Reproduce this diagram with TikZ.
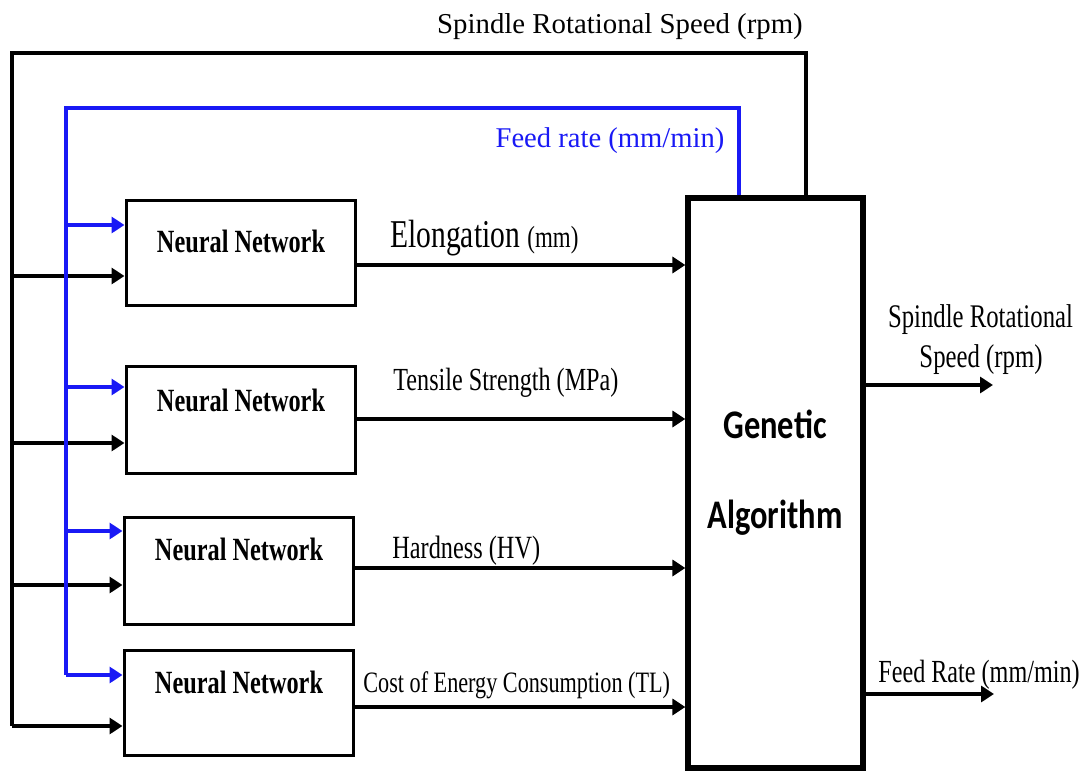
\documentclass[tikz,border=0pt]{standalone}
\usepackage{fontspec}
\setmainfont{Liberation Serif}
\newfontfamily\narrowserif[FakeStretch=0.75]{Liberation Serif}
\newfontfamily\narrowsans[FakeStretch=0.8]{Carlito}
\usepackage{tikz}
\usetikzlibrary{arrows.meta}
\usepackage{xcolor}
\definecolor{feedblue}{RGB}{25,25,245}

\tikzset{
  nnbox/.style={draw, line width=1.5pt, minimum width=114.5pt, minimum height=52.5pt, inner sep=0pt},
  gabox/.style={draw, line width=2.6pt, minimum width=87.5pt, minimum height=285pt, inner sep=0pt},
  bus/.style={line width=2pt},
  flow/.style={bus, -{Triangle[length=6.5pt,width=8pt]}},
  feedflow/.style={flow, feedblue},
  nnlbl/.style={anchor=base, inner sep=0pt, font=\narrowserif\bfseries\fontsize{16.2}{18}\selectfont},
  galbl/.style={anchor=base, inner sep=0pt, font=\narrowsans\bfseries\fontsize{20.3}{22}\selectfont},
  toplbl/.style={anchor=base, inner sep=0pt},
  outlbl/.style={anchor=base west, inner sep=0pt},
}

\begin{document}
\begin{tikzpicture}[x=0.5pt, y=-0.5pt]
  \useasboundingbox (0,0) rectangle (1089,771);

  % blocks
  \node[nnbox] (nn1) at (240.5,253) {};
  \node[nnbox, minimum height=53.5pt] (nn2) at (240.5,419.5) {};
  \node[nnbox, minimum height=53.5pt] (nn3) at (238.5,570.5) {};
  \node[nnbox] (nn4) at (238.5,703) {};
  \node[gabox] (ga) at (775.5,483) {};

  \node[nnlbl] (nn1txt) at (241,252) {Neural Network};
  \node[nnlbl] (nn2txt) at (241,411) {Neural Network};
  \node[nnlbl] (nn3txt) at (239,560) {Neural Network};
  \node[nnlbl] (nn4txt) at (239,693) {Neural Network};
  \node[galbl] (gen) at (775,438) {Genetic};
  \node[galbl] (alg) at (775,528) {Algorithm};

  % feedback loops
  \coordinate (spd) at (806,53);
  \coordinate (spdleft) at (12,53);
  \coordinate (feed) at (739,108);
  \coordinate (feedleft) at (66,108);

  \draw[bus] (ga.north -| spd) -- (spd) -- (spdleft) -- (12,726);
  \foreach \y/\n in {276/1,443/2,585/3,726/4}
    \draw[flow] (12,\y) -- (nn\n.west |- 0,\y);

  \draw[bus, feedblue] (ga.north -| feed) -- (feed) -- (feedleft) -- (66,675);
  \foreach \y/\n in {225/1,387/2,531/3,675/4}
    \draw[feedflow] (66,\y) -- (nn\n.west |- 0,\y);

  % outputs
  \foreach \y/\n in {265/1,419/2,568/3,707/4}
    \draw[flow] (nn\n.east |- 0,\y) -- (ga.west |- 0,\y);

  \coordinate (spdout) at (993,385);
  \coordinate (feedout) at (994,694);
  \draw[flow] (ga.east |- spdout) -- (spdout);
  \draw[flow] (ga.east |- feedout) -- (feedout);

  % labels
  \node[toplbl, font=\fontsize{14.4}{16}\selectfont] (spdtxt) at (620,33) {Spindle Rotational Speed (rpm)};
  \node[toplbl, feedblue, font=\fontsize{14.3}{16}\selectfont] (feedtxt) at (610,148) {Feed rate (mm/min)};

  \node[outlbl, font=\narrowserif\fontsize{19.7}{21}\selectfont] (elo) at (390,247) {Elongation {\fontsize{15.3}{16}\selectfont(mm)}};
  \node[outlbl, font=\narrowserif\fontsize{16.1}{18}\selectfont] (ten) at (393,390) {Tensile Strength (MPa)};
  \node[outlbl, font=\narrowserif\fontsize{16.2}{18}\selectfont] (hard) at (392,558) {Hardness (HV)};
  \node[outlbl, font=\narrowserif\fontsize{14.8}{16}\selectfont] (cost) at (363,692) {Cost of Energy Consumption (TL)};

  \node[toplbl, font=\narrowserif\fontsize{16.5}{18}\selectfont] (spdout1) at (980.5,327) {Spindle Rotational};
  \node[toplbl, font=\narrowserif\fontsize{16.5}{18}\selectfont] (spdout2) at (981,367) {Speed (rpm)};
  \node[outlbl, font=\narrowserif\fontsize{16.1}{18}\selectfont] (feedrt) at (878,682) {Feed Rate (mm/min)};
\end{tikzpicture}
\end{document}
